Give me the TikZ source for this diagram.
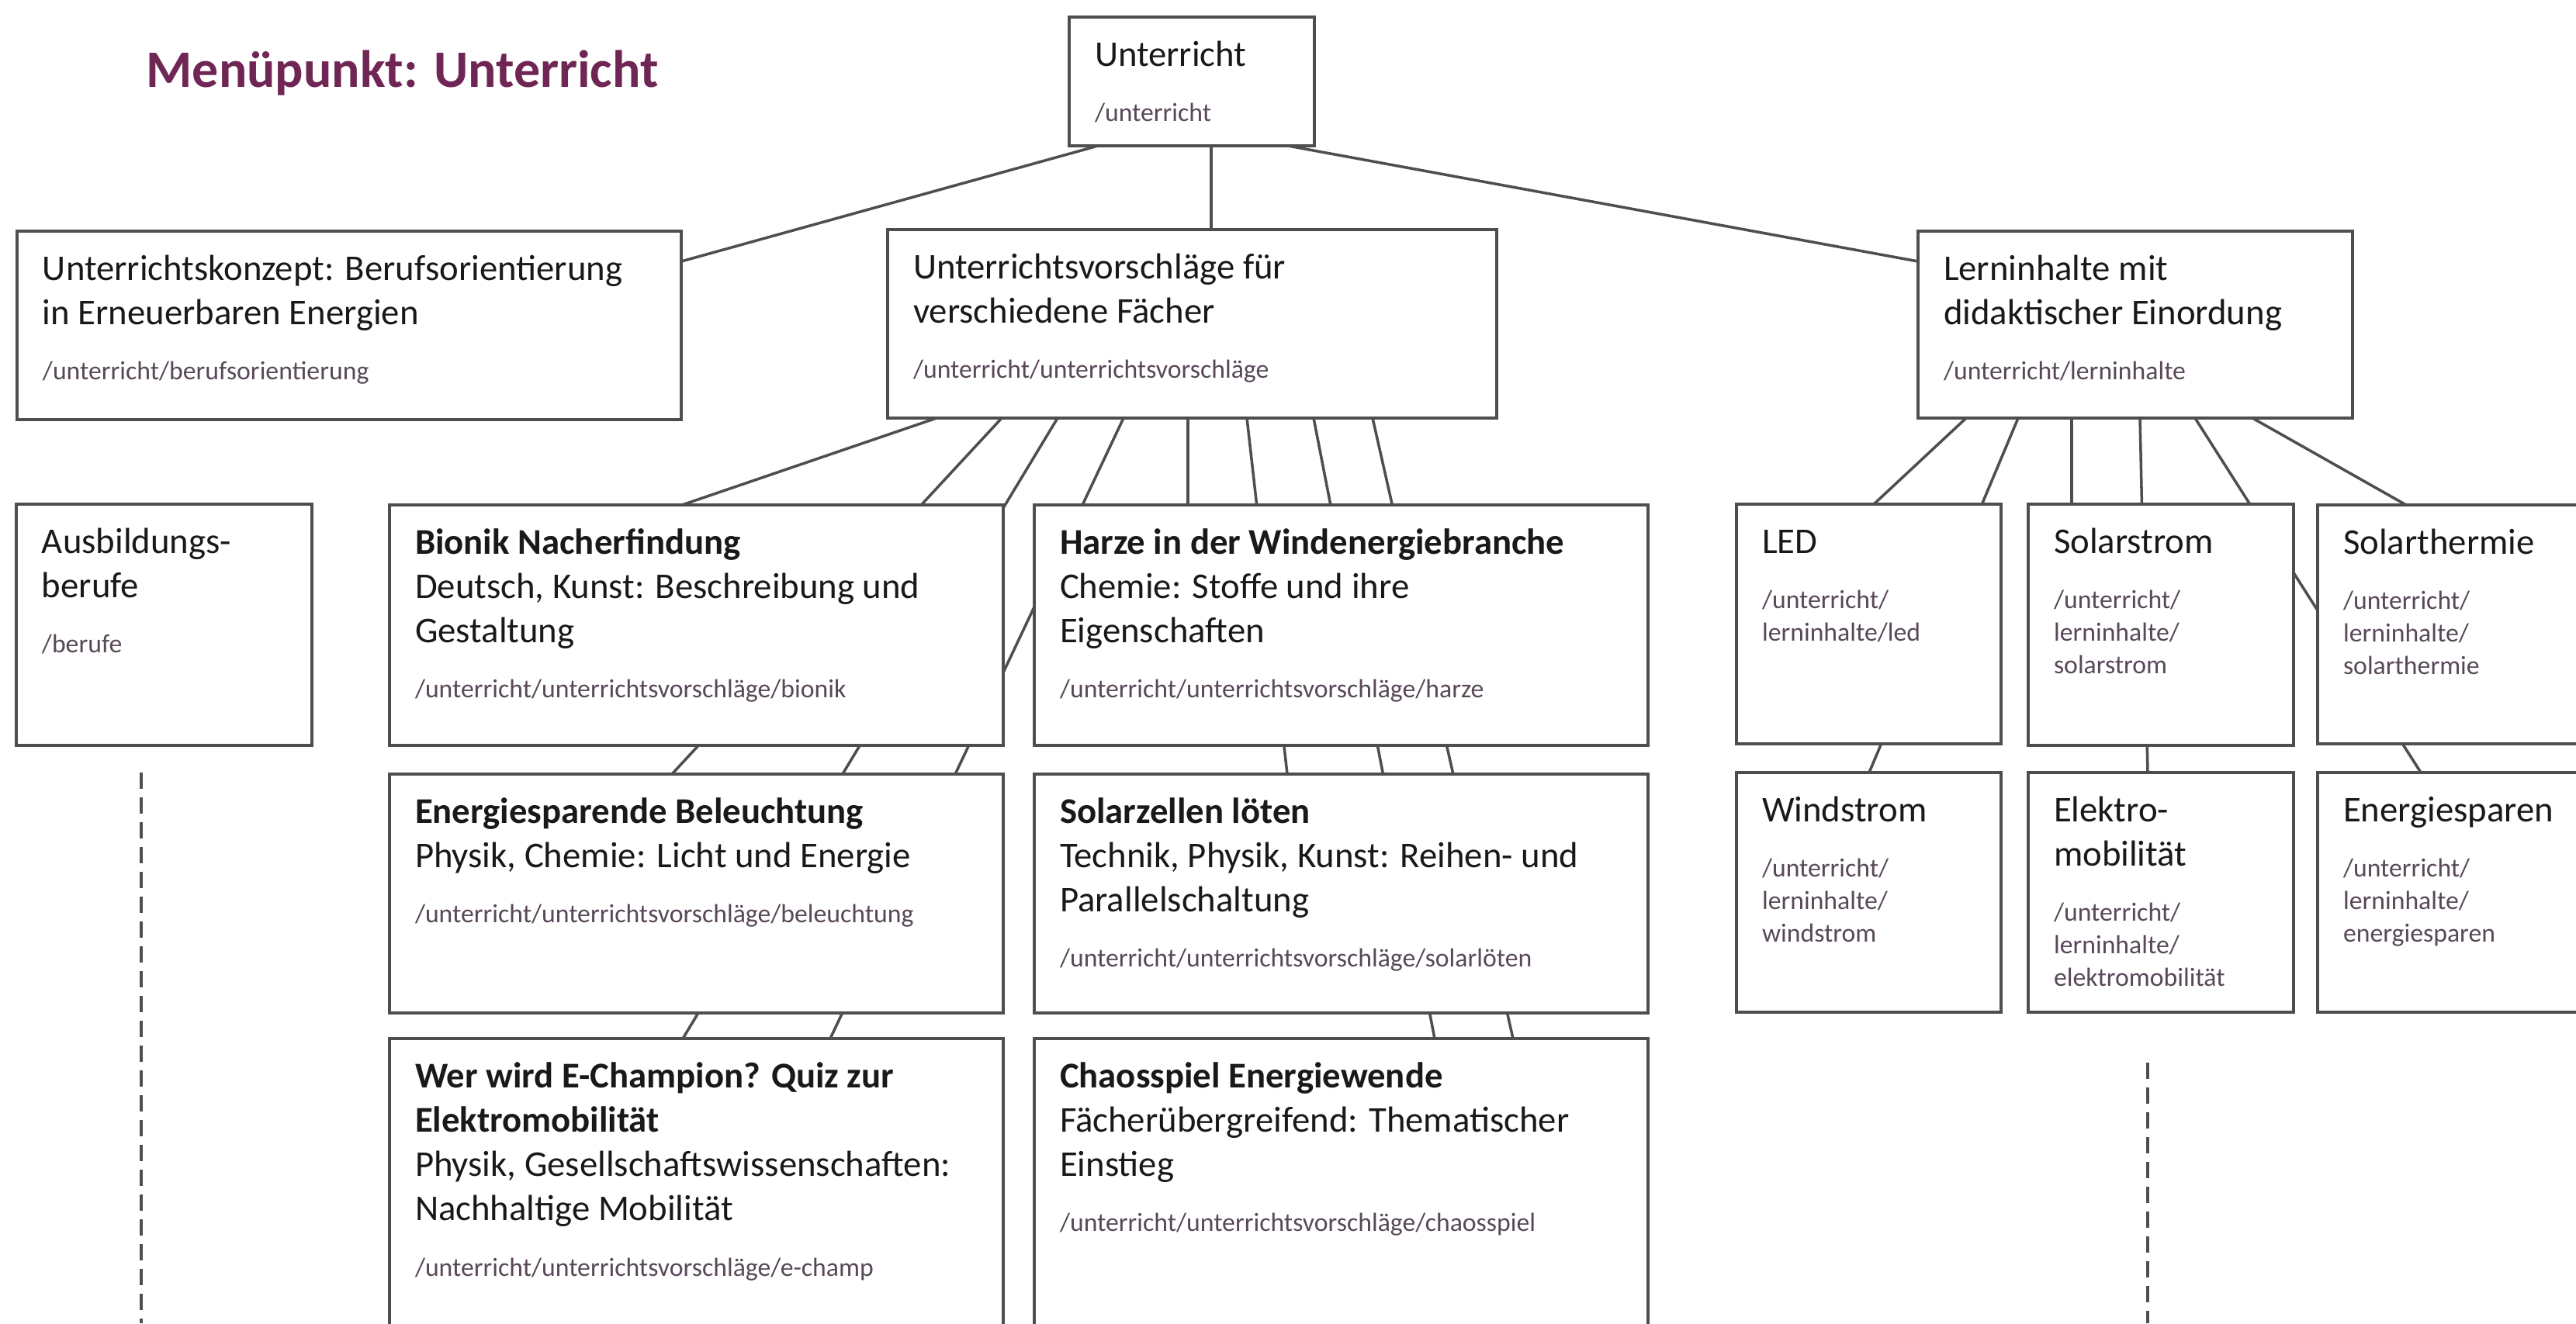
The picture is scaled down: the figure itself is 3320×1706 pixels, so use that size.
\documentclass[tikz,border=0pt]{standalone}
\usepackage{fontspec}
\setmainfont{Carlito}
\usepackage{tikz}
\usetikzlibrary{positioning, calc, backgrounds}

\definecolor{titelfarbe}{RGB}{112,38,84}
\definecolor{rahmen}{RGB}{78,78,78}
\definecolor{pfad}{RGB}{88,72,88}
\definecolor{schrift}{RGB}{25,25,25}

% Kasteninhalt: Breite, Hoehe, Text, Pfad
\newcommand{\kastentext}[4]{%
    \begin{minipage}[t][#2][t]{#1}%
        \raggedright\leftskip=3.3mm
        \fontsize{13.3}{16.3}\selectfont\color{schrift}%
        \rule{0pt}{6.3mm}#3\par
        \vspace{2.9mm}%
        {\fontsize{9.6}{12}\selectfont\color{pfad}#4\par}%
    \end{minipage}}

\begin{document}
\begin{tikzpicture}[
            x=0.1mm, y=-0.1mm,
            kasten/.style={
                    draw=rahmen,
                    line width=1.3pt,
                    fill=white,
                    inner sep=0pt,
                    outer sep=0pt
                },
            linie/.style={
                    draw=rahmen,
                    line width=1pt
                },
            strichlinie/.style={
                    linie,
                    dash pattern=on 2.1mm off 1.1mm
                },
            titel/.style={
                    font=\fontsize{19.3}{23}\selectfont\bfseries,
                    color=titelfarbe,
                    inner sep=0pt
                }
        ]

        \useasboundingbox (0,0) rectangle (3320,1706);
        \clip (0,0) rectangle (3320,1706);

        \node[titel, anchor=base west] (titel) at (188,112) {Menüpunkt: Unterricht};

        % Ebene 1 und 2
        \node[kasten, anchor=north west] (unterricht) at (1378,22) {\kastentext{31.6mm}{16.6mm}{Unterricht}{/unterricht}};
        \node[kasten, anchor=north west] (konzept) at (22,298) {\kastentext{85.6mm}{24.3mm}{Unterrichtskonzept: Berufsorientierung\\in Erneuerbaren Energien}{/unterricht/berufsorientierung}};
        \node[kasten, anchor=north west] (vorschl) at (1144,296) {\kastentext{78.5mm}{24.3mm}{Unterrichtsvorschläge für\\verschiedene Fächer}{/unterricht/unterrichtsvorschläge}};
        \node[kasten, anchor=north west] (lern) at (2472,298) {\kastentext{56mm}{24.1mm}{Lerninhalte mit\\didaktischer Einordung}{/unterricht/lerninhalte}};

        % Unterrichtsvorschlaege
        \node[kasten, anchor=north west] (berufe) at (21,650) {\kastentext{38.1mm}{31.1mm}{Ausbildungs-\\berufe}{/berufe}};
        \node[kasten, anchor=north west] (bionik) at (502,651) {\kastentext{79.1mm}{31mm}{\textbf{Bionik Nacherfindung}\\Deutsch, Kunst: Beschreibung und\\Gestaltung}{/unterricht/unterrichtsvorschläge/bionik}};
        \node[kasten, anchor=north west] (harze) at (1333,651) {\kastentext{79.1mm}{31mm}{\textbf{Harze in der Windenergiebranche}\\Chemie: Stoffe und ihre\\Eigenschaften}{/unterricht/unterrichtsvorschläge/harze}};
        \node[kasten, below=3.7mm of bionik] (beleucht) {\kastentext{79.1mm}{30.8mm}{\textbf{Energiesparende Beleuchtung}\\Physik, Chemie: Licht und Energie}{/unterricht/unterrichtsvorschläge/beleuchtung}};
        \node[kasten, below=3.7mm of harze] (solarz) {\kastentext{79.1mm}{30.8mm}{\textbf{Solarzellen löten}\\Technik, Physik, Kunst: Reihen- und\\Parallelschaltung}{/unterricht/unterrichtsvorschläge/solarlöten}};
        \node[kasten, below=3.3mm of beleucht] (echamp) {\kastentext{79.1mm}{42mm}{\textbf{Wer wird E-Champion? Quiz zur\\Elektromobilität}\\Physik, Gesellschaftswissenschaften:\\Nachhaltige Mobilität}{/unterricht/unterrichtsvorschläge/e-champ}};
        \node[kasten, below=3.3mm of solarz] (chaos) {\kastentext{79.1mm}{42mm}{\textbf{Chaosspiel Energiewende}\\Fächerübergreifend: Thematischer\\Einstieg}{/unterricht/unterrichtsvorschläge/chaosspiel}};

        % Lerninhalte
        \node[kasten, anchor=north west] (led) at (2238,650) {\kastentext{34.1mm}{30.9mm}{LED}{/unterricht/\\lerninhalte/led}};
        \node[kasten, anchor=north west] (solarstrom) at (2614,650) {\kastentext{34.2mm}{31.1mm}{Solarstrom}{/unterricht/\\lerninhalte/\\solarstrom}};
        \node[kasten, anchor=north west] (solartherm) at (2987,651) {\kastentext{37.3mm}{30.8mm}{Solarthermie}{/unterricht/\\lerninhalte/\\solarthermie}};
        \node[kasten, below=3.7mm of led] (windstrom) {\kastentext{34.1mm}{30.9mm}{Windstrom}{/unterricht/\\lerninhalte/\\windstrom}};
        \node[kasten, below=3.5mm of solarstrom] (elektro) {\kastentext{34.2mm}{30.9mm}{Elektro-\\mobilität}{/unterricht/\\lerninhalte/\\elektromobilität}};
        \node[kasten, below=3.7mm of solartherm] (sparen) {\kastentext{37.3mm}{30.9mm}{Energiesparen}{/unterricht/\\lerninhalte/\\energiesparen}};

        \coordinate (bodenlinks) at (182,1706);
        \coordinate (bodenrechts) at (2768,1706);

        \begin{scope}[on background layer]
            \fill[white] (0,0) rectangle (3320,1706);

            \draw[linie] ($(unterricht.south west)+(37,0)$) -- ($(konzept.north east)+(0,39)$);
            \draw[linie] ($(unterricht.south)+(25,0)$) coordinate (mitte) -- (mitte |- vorschl.north);
            \draw[linie] ($(unterricht.south east)+(-34,0)$) -- ($(lern.north west)+(0,39)$);

            \draw[linie] ($(vorschl.south west)+(63,0)$) -- ($(bionik.north west)+(377,0)$);
            \draw[linie] ($(vorschl.south west)+(147,0)$) -- ($(beleucht.north west)+(364,0)$);
            \draw[linie] ($(vorschl.south west)+(219,0)$) -- ($(echamp.north west)+(378,0)$);
            \draw[linie] ($(vorschl.south west)+(304,0)$) -- ($(echamp.north west)+(568,0)$);
            \draw[linie] ($(vorschl.south west)+(387,0)$) -- ($(harze.north west)+(198,0)$);
            \draw[linie] ($(vorschl.south west)+(463,0)$) -- ($(solarz.north west)+(326,0)$);
            \draw[linie] ($(vorschl.south west)+(549,0)$) -- ($(chaos.north west)+(516,0)$);
            \draw[linie] ($(vorschl.south west)+(625,0)$) -- ($(chaos.north west)+(617,0)$);

            \draw[linie] ($(lern.south west)+(62,0)$) -- ($(led.north west)+(177,0)$);
            \draw[linie] ($(lern.south west)+(129,0)$) -- ($(windstrom.north west)+(171,0)$);
            \draw[linie] ($(lern.south west)+(198,0)$) -- ($(solarstrom.north west)+(56,0)$);
            \draw[linie] ($(lern.south west)+(286,0)$) -- ($(elektro.north west)+(154,0)$);
            \draw[linie] ($(lern.south west)+(357,0)$) -- ($(sparen.north west)+(133,0)$);
            \draw[linie] ($(lern.south west)+(431,0)$) -- ($(solartherm.north west)+(114,0)$);
        \end{scope}

        \draw[strichlinie] ($(berufe.south west)+(161,35)$) -- (bodenlinks);
        \draw[strichlinie] ($(elektro.south west)+(154,65)$) -- (bodenrechts);

    \end{tikzpicture}
\end{document}
